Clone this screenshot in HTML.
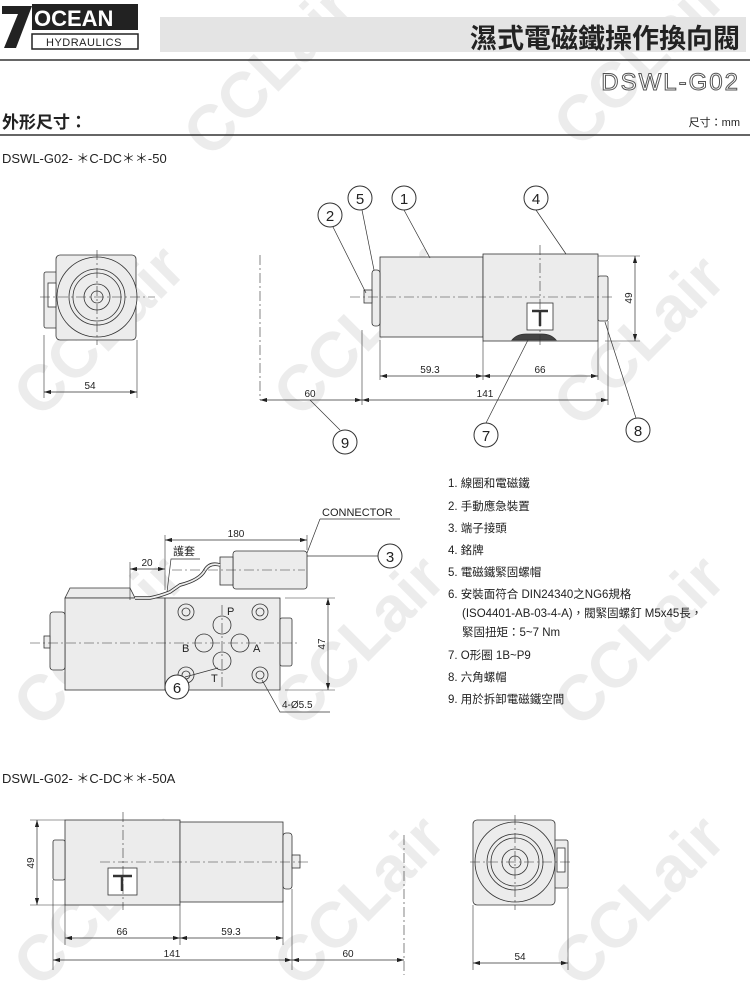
<!DOCTYPE html>
<html><head><meta charset="utf-8"><style>
html,body{margin:0;padding:0;background:#fff}
svg{display:block}
text{font-family:"Liberation Sans","Noto Sans CJK TC",sans-serif;fill:#222}
.wm{font-size:64px;font-weight:bold;fill:#ececec}
</style></head><body>
<svg width="750" height="982" viewBox="0 0 750 982" xmlns="http://www.w3.org/2000/svg">
<defs>
<marker id="a" viewBox="0 0 10 6" refX="10" refY="3" markerWidth="10" markerHeight="6" orient="auto-start-reverse"><path d="M0,0L10,3L0,6z" fill="#222"/></marker>
</defs>
<g>
<text class="wm" transform="translate(40,420) rotate(-45)">CCLair</text>
<text class="wm" transform="translate(300,420) rotate(-45)">CCLair</text>
<text class="wm" transform="translate(580,430) rotate(-45)">CCLair</text>
<text class="wm" transform="translate(210,160) rotate(-45)">CCLair</text>
<text class="wm" transform="translate(580,150) rotate(-45)">CCLair</text>
<text class="wm" transform="translate(40,730) rotate(-45)">CCLair</text>
<text class="wm" transform="translate(300,730) rotate(-45)">CCLair</text>
<text class="wm" transform="translate(580,730) rotate(-45)">CCLair</text>
<text class="wm" transform="translate(40,990) rotate(-45)">CCLair</text>
<text class="wm" transform="translate(300,990) rotate(-45)">CCLair</text>
<text class="wm" transform="translate(580,990) rotate(-45)">CCLair</text>
</g>
<rect x="160" y="17" width="586" height="35" fill="#e4e4e4"/>
<path d="M2,6 L32,6 L16,48 L4,48 L18,14 L2,14 Z" fill="#222"/>
<rect x="32" y="4" width="106" height="26" fill="#222"/>
<text x="34" y="26" font-size="22" font-weight="bold" style="fill:#fff">OCEAN</text>
<rect x="32" y="34" width="106" height="15" fill="#fff" stroke="#222" stroke-width="1.5"/>
<text x="46" y="46" font-size="11" letter-spacing="0.5">HYDRAULICS</text>
<text x="740" y="48" font-size="27" font-weight="bold" text-anchor="end">濕式電磁鐵操作換向閥</text>
<line x1="0" y1="60" x2="750" y2="60" stroke="#333" stroke-width="1.5"/>
<text x="740" y="90" font-size="24" text-anchor="end" style="fill:#fff;stroke:#555;stroke-width:1" letter-spacing="2">DSWL-G02</text>
<text x="2" y="128" font-size="17" font-weight="bold">外形尺寸：</text>
<text x="740" y="126" font-size="11" text-anchor="end">尺寸：mm</text>
<line x1="0" y1="135" x2="750" y2="135" stroke="#333" stroke-width="1.5"/>
<text x="2" y="163" font-size="13">DSWL-G02- ＊C-DC＊＊-50</text>

<g stroke="#333" stroke-width="0.8" fill="#ececec">
<rect x="44" y="272" width="18" height="56" rx="2"/>
<rect x="56" y="255" width="80" height="85" rx="4"/>
<circle cx="97" cy="297" r="40"/>
<circle cx="97" cy="297" r="28" fill="none"/>
<circle cx="97" cy="297" r="24" fill="none"/>
<circle cx="97" cy="297" r="13" fill="none"/>
<circle cx="97" cy="297" r="6" fill="none"/>
<rect x="48" y="283" width="8" height="24" fill="#fff"/>
<rect x="380" y="257" width="103" height="80"/>
<rect x="483" y="254" width="115" height="87"/>
<rect x="598" y="276" width="10" height="45" rx="2"/>
<rect x="372" y="270" width="8" height="56" rx="3"/>
<rect x="364" y="290" width="8" height="13"/>
<rect x="527" y="303" width="26" height="27" fill="#fff"/>
<path d="M512,340 q5,-6 14,-6 h16 q9,0 14,6z" fill="#444"/>
<path d="M65,598 L70,588 L130,588 L135,598 Z"/>
<rect x="65" y="598" width="100" height="92"/>
<rect x="50" y="612" width="15" height="58" rx="3"/>
<rect x="44" y="636" width="6" height="12"/>
<rect x="165" y="598" width="115" height="92"/>
<rect x="280" y="618" width="12" height="48" rx="2"/>
<rect x="233" y="551" width="74" height="38" rx="3"/>
<rect x="220" y="557" width="13" height="28"/>
<rect x="65" y="820" width="115" height="85"/>
<rect x="180" y="822" width="103" height="80"/>
<rect x="53" y="840" width="12" height="40" rx="2"/>
<rect x="283" y="833" width="9" height="56" rx="3"/>
<rect x="292" y="855" width="8" height="13"/>
<rect x="108" y="868" width="29" height="27" fill="#fff"/>
<rect x="554" y="840" width="14" height="48" rx="2"/>
<rect x="473" y="820" width="82" height="85" rx="4"/>
<circle cx="515" cy="862" r="40"/>
<circle cx="515" cy="862" r="28" fill="none"/>
<circle cx="515" cy="862" r="24" fill="none"/>
<circle cx="515" cy="862" r="13" fill="none"/>
<circle cx="515" cy="862" r="6" fill="none"/>
<rect x="557" y="848" width="8" height="24" fill="#fff"/>
</g>
<g stroke="#333" stroke-width="2.5"><path d="M532,311h16M540,311v15M113,876h19M122,876v15"/></g>
<path d="M135,598 L150,598 Q160,596 170,592 L180,585 Q200,580 205,570 Q210,562 220,565" stroke="#333" fill="none" stroke-width="3.5"/>
<path d="M135,598 L150,598 Q160,596 170,592 L180,585 Q200,580 205,570 Q210,562 220,565" stroke="#eee" fill="none" stroke-width="1.8"/>
<g stroke="#333" stroke-width="0.8" fill="none">
<circle cx="186" cy="612" r="8"/><circle cx="186" cy="612" r="4"/>
<circle cx="260" cy="612" r="8"/><circle cx="260" cy="612" r="4"/>
<circle cx="186" cy="675" r="8"/><circle cx="186" cy="675" r="4"/>
<circle cx="260" cy="675" r="8"/><circle cx="260" cy="675" r="4"/>
<circle cx="222" cy="625" r="9"/><circle cx="204" cy="643" r="9"/><circle cx="240" cy="643" r="9"/><circle cx="222" cy="661" r="9"/>
</g>
<text x="227" y="615" font-size="11">P</text><text x="182" y="652" font-size="11">B</text>
<text x="253" y="652" font-size="11">A</text><text x="211" y="682" font-size="11">T</text>
<g stroke="#333" stroke-width="0.6" stroke-dasharray="10,3,2,3" fill="none">
<path d="M40,297H155M97,250V345M350,297H612M540,245V345M260,255V400M30,643H300M222,605V690M172,570H305M100,862H310M123,812V910M470,862H570M515,815V910M404,835V975"/>
</g>
<g stroke="#333" stroke-width="0.6" fill="none">
<path d="M44,335V398M137,340V398M380,340V380M483,341V380M598,341V380M608,321V405M362,330V405M598,256H640M605,341H640M307,535V550M165,535V590M130,562V600M285,598H335M285,690H335M65,905V945M180,905V945M283,900V945M53,880V970M292,889V970M30,820H65M30,905H65M473,905V970M568,888V970"/>
</g>
<g stroke="#333" stroke-width="0.7" marker-start="url(#a)" marker-end="url(#a)">
<line x1="44" y1="392" x2="137" y2="392"/>
<line x1="380" y1="376" x2="483" y2="376"/>
<line x1="483" y1="376" x2="598" y2="376"/>
<line x1="260" y1="400" x2="362" y2="400"/>
<line x1="362" y1="400" x2="608" y2="400"/>
<line x1="635" y1="256" x2="635" y2="341"/>
<line x1="165" y1="540" x2="307" y2="540"/>
<line x1="130" y1="569" x2="165" y2="569"/>
<line x1="328" y1="598" x2="328" y2="690"/>
<line x1="37" y1="820" x2="37" y2="905"/>
<line x1="65" y1="938" x2="180" y2="938"/>
<line x1="180" y1="938" x2="283" y2="938"/>
<line x1="53" y1="960" x2="292" y2="960"/>
<line x1="292" y1="960" x2="404" y2="960"/>
<line x1="473" y1="963" x2="568" y2="963"/>
</g>
<g font-size="10" text-anchor="middle">
<text x="90" y="389">54</text><text x="430" y="373">59.3</text><text x="540" y="373">66</text>
<text x="310" y="397">60</text><text x="485" y="397">141</text>
<text x="236" y="537">180</text><text x="147" y="566">20</text>
<text x="122" y="935">66</text><text x="231" y="935">59.3</text>
<text x="172" y="957">141</text><text x="348" y="957">60</text><text x="520" y="960">54</text>
<text transform="translate(632,298) rotate(-90)">49</text>
<text transform="translate(325,644) rotate(-90)">47</text>
<text transform="translate(34,863) rotate(-90)">49</text>
</g>
<text x="322" y="516" font-size="11">CONNECTOR</text>
<text x="173" y="555" font-size="11">護套</text>
<text x="282" y="708" font-size="10">4-Ø5.5</text>
<g stroke="#333" stroke-width="0.7" fill="none">
<path d="M404,210L430,258M362,210L374,270M333,227L366,293M536,210L566,254M486,423L528,340M636,418L605,322M340,430L310,400M320,519H400M320,519L307,553M402,556H307M185,677L218,668M200,559H171L167,592M262,680L280,712H330"/>
</g>
<g stroke="#333" stroke-width="1" fill="#fff">
<circle cx="404" cy="198" r="12"/><circle cx="360" cy="198" r="12"/><circle cx="330" cy="215" r="12"/>
<circle cx="536" cy="198" r="12"/><circle cx="486" cy="435" r="12"/><circle cx="638" cy="430" r="12"/>
<circle cx="345" cy="442" r="12"/><circle cx="390" cy="556" r="12"/><circle cx="177" cy="687" r="12"/>
</g>
<g font-size="15" text-anchor="middle">
<text x="404" y="204">1</text><text x="360" y="204">5</text><text x="330" y="221">2</text>
<text x="536" y="204">4</text><text x="486" y="441">7</text><text x="638" y="436">8</text>
<text x="345" y="448">9</text><text x="390" y="562">3</text><text x="177" y="693">6</text>
</g>
<g font-size="11.5">
<text x="448" y="487">1. 線圈和電磁鐵</text>
<text x="448" y="510">2. 手動應急裝置</text>
<text x="448" y="532">3. 端子接頭</text>
<text x="448" y="554">4. 銘牌</text>
<text x="448" y="576">5. 電磁鐵緊固螺帽</text>
<text x="448" y="598">6. 安裝面符合 DIN24340之NG6規格</text>
<text x="462" y="617">(ISO4401-AB-03-4-A)，閥緊固螺釘 M5x45長，</text>
<text x="462" y="636">緊固扭矩：5~7 Nm</text>
<text x="448" y="659">7. O形圈 1B~P9</text>
<text x="448" y="681">8. 六角螺帽</text>
<text x="448" y="703">9. 用於拆卸電磁鐵空間</text>
</g>
<text x="2" y="783" font-size="13">DSWL-G02- ＊C-DC＊＊-50A</text>
</svg>
</body></html>
